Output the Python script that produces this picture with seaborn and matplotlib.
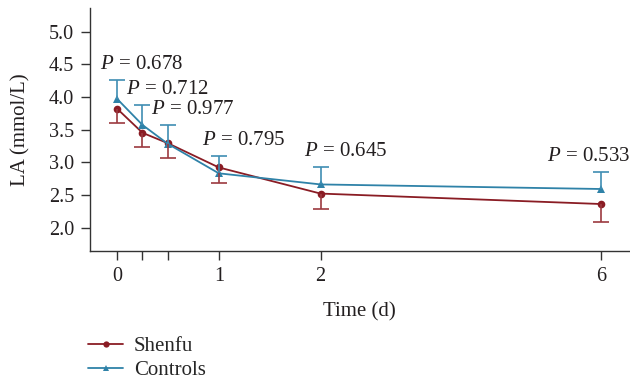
import numpy as np
import pandas as pd
import matplotlib
matplotlib.use("Agg")
import matplotlib.pyplot as plt
import seaborn as sns

# values
time_days = [0, 0.25, 0.5, 1, 2, 6]
shenfu_mean = [3.82, 3.45, 3.29, 2.92, 2.52, 2.36]
shenfu_sd = [0.22, 0.21, 0.23, 0.24, 0.24, 0.28]
controls_mean = [3.97, 3.57, 3.28, 2.83, 2.66, 2.59]
controls_sd = [0.29, 0.30, 0.29, 0.26, 0.26, 0.26]
p_values = ["0.678", "0.712", "0.977", "0.795", "0.645", "0.533"]
xtick_labels = ["0", "", "", "1", "2", "6"]
ytick_values = [2.0, 2.5, 3.0, 3.5, 4.0, 4.5, 5.0]

RED = "#8a1c24"
BLUE = "#2f82a8"
INK = "#231f20"

sns.set_style("ticks")
plt.rcParams["font.family"] = ["Liberation Serif", "DejaVu Serif"]
plt.rcParams["mathtext.fontset"] = "custom"
plt.rcParams["mathtext.it"] = "Liberation Serif:italic"
plt.rcParams["mathtext.rm"] = "Liberation Serif"

df = pd.DataFrame({
    "time": time_days * 2,
    "la": shenfu_mean + controls_mean,
    "group": ["Shenfu"] * 6 + ["Controls"] * 6,
})

# compress the axis after day 2
K = 0.69
def fwd(x):
    x = np.asarray(x, dtype=float)
    return np.where(x <= 2, x, 2 + (x - 2) * K)

def inv(x):
    x = np.asarray(x, dtype=float)
    return np.where(x <= 2, x, 2 + (x - 2) / K)

fig = plt.figure(figsize=(6.3, 3.81), dpi=100)
ax = fig.add_axes([0.143, 0.341, 0.855, 0.638])
ax.set_xscale("function", functions=(fwd, inv))

sns.lineplot(data=df, x="time", y="la", hue="group", style="group",
             palette={"Shenfu": RED, "Controls": BLUE},
             markers={"Shenfu": "o", "Controls": "^"}, dashes=False,
             markersize=5.5, markeredgewidth=0, linewidth=1.3, ax=ax, legend=False)

# one-sided error bars: Shenfu down, Controls up
_, caps, _ = ax.errorbar(time_days, shenfu_mean, yerr=[shenfu_sd, np.zeros(6)],
                         fmt="none", ecolor="#9c3a40", elinewidth=1.2, capsize=6, capthick=1.2)
caps[1].set_visible(False)
_, caps, _ = ax.errorbar(time_days, controls_mean, yerr=[np.zeros(6), controls_sd],
                         fmt="none", ecolor="#3f8db3", elinewidth=1.2, capsize=6, capthick=1.2)
caps[0].set_visible(False)

for i, (t, m, s, p) in enumerate(zip(time_days, controls_mean, controls_sd, p_values)):
    last = i == len(time_days) - 1
    ax.annotate(f"$P$ = {p}", (t, m + s), xytext=(21 if last else -12, 8),
                textcoords="offset points", ha="right" if last else "left",
                va="baseline", fontsize=15, color=INK)

ax.set_xlim(-0.265, 6.39)
ax.set_ylim(1.64, 5.36)
ax.set_xticks(time_days)
ax.set_xticklabels(xtick_labels)
ax.set_yticks(ytick_values)
ax.set_yticklabels([f"{v:.1f}" for v in ytick_values])
ax.tick_params(labelsize=14.5, length=6.5, width=1, color="#333333", labelcolor=INK, pad=5)
ax.set_xlabel("Time (d)", fontsize=15, color=INK, labelpad=12)
ax.set_ylabel("LA (mmol/L)", fontsize=15, color=INK, labelpad=13)
for side in ["left", "bottom"]:
    ax.spines[side].set_color("#333333")
    ax.spines[side].set_linewidth(1)
sns.despine(ax=ax)

handles = [
    plt.Line2D([], [], color=RED, marker="o", markersize=4.5, markeredgewidth=0, linewidth=1.3),
    plt.Line2D([], [], color=BLUE, marker="^", markersize=4.5, markeredgewidth=0, linewidth=1.3),
]
fig.legend(handles, ["Shenfu", "Controls"], loc="upper left", bbox_to_anchor=(0.133, 0.1275),
           frameon=False, fontsize=15, handlelength=1.7, handletextpad=0.5,
           labelspacing=0.2, borderpad=0.2, borderaxespad=0)

fig.savefig("out.png", dpi=100)
